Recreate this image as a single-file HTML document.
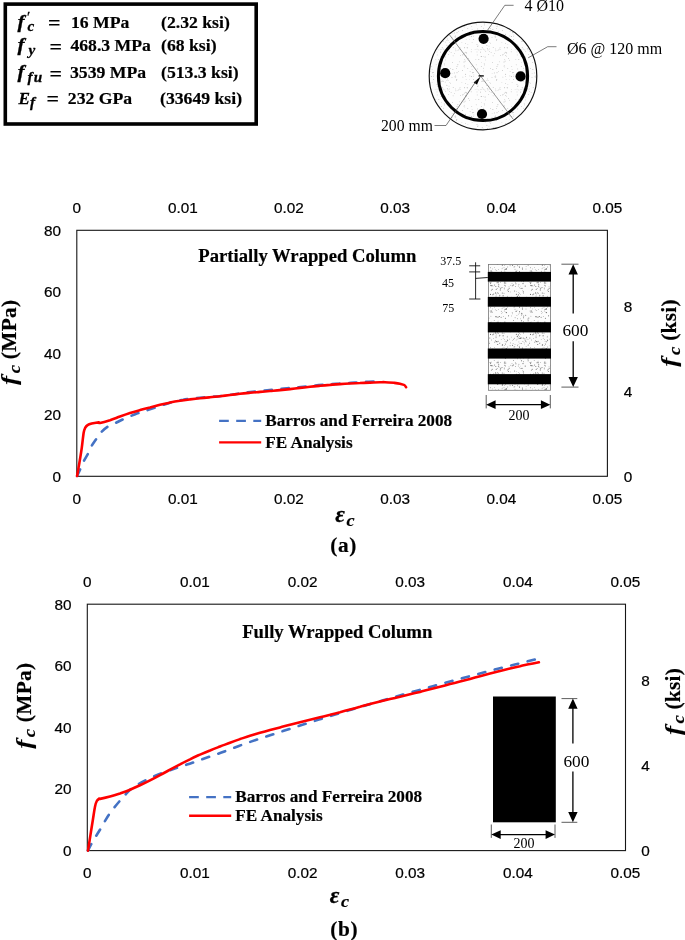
<!DOCTYPE html>
<html lang="en"><head><meta charset="utf-8"><title>Axial stress-strain: FRP wrapped columns</title>
<style>
html,body{margin:0;padding:0;background:#fff}
svg{display:block}
.tk{font-family:"Liberation Sans", sans-serif;font-size:15.3px;fill:#000;stroke:#000;stroke-width:0.22px}
.s{font-family:"Liberation Serif", serif;fill:#000}
.b{font-weight:bold;stroke:#000;stroke-width:0.18px}
.i{font-style:italic;stroke:#000;stroke-width:0.28px}
</style></head><body>
<svg width="685" height="940" viewBox="0 0 685 940">
<defs>
<pattern id="stip" width="40" height="40" patternUnits="userSpaceOnUse"><rect width="40" height="40" fill="#fcfcfc"/><g fill="#6a6a6a"><circle cx="13.0" cy="6.0" r="0.35"/><circle cx="2.9" cy="21.4" r="0.45"/><circle cx="23.3" cy="36.4" r="0.40"/><circle cx="1.5" cy="17.3" r="0.35"/><circle cx="9.6" cy="22.0" r="0.35"/><circle cx="33.1" cy="5.0" r="0.40"/><circle cx="25.2" cy="23.3" r="0.35"/><circle cx="23.1" cy="15.9" r="0.40"/><circle cx="1.9" cy="34.3" r="0.45"/><circle cx="16.8" cy="21.6" r="0.55"/><circle cx="12.3" cy="32.6" r="0.40"/><circle cx="4.1" cy="22.8" r="0.40"/><circle cx="14.9" cy="21.9" r="0.35"/><circle cx="22.6" cy="24.8" r="0.50"/><circle cx="27.2" cy="17.1" r="0.45"/><circle cx="18.6" cy="36.9" r="0.45"/><circle cx="12.0" cy="31.8" r="0.40"/><circle cx="3.3" cy="12.0" r="0.50"/><circle cx="35.0" cy="29.2" r="0.45"/><circle cx="24.4" cy="2.9" r="0.55"/><circle cx="16.7" cy="30.3" r="0.40"/><circle cx="37.3" cy="16.9" r="0.35"/><circle cx="30.6" cy="22.9" r="0.45"/><circle cx="13.6" cy="14.0" r="0.50"/><circle cx="23.2" cy="18.2" r="0.35"/><circle cx="37.8" cy="19.0" r="0.35"/><circle cx="2.4" cy="28.1" r="0.55"/><circle cx="39.7" cy="32.9" r="0.45"/><circle cx="28.7" cy="35.5" r="0.45"/><circle cx="0.9" cy="18.5" r="0.40"/><circle cx="24.4" cy="19.7" r="0.40"/><circle cx="30.7" cy="5.2" r="0.40"/><circle cx="15.9" cy="36.7" r="0.50"/><circle cx="3.2" cy="18.0" r="0.55"/><circle cx="11.1" cy="5.5" r="0.50"/><circle cx="34.6" cy="11.1" r="0.50"/><circle cx="39.5" cy="27.3" r="0.50"/><circle cx="38.3" cy="6.0" r="0.40"/><circle cx="6.1" cy="26.3" r="0.35"/><circle cx="19.4" cy="23.6" r="0.45"/><circle cx="11.3" cy="5.8" r="0.55"/><circle cx="14.8" cy="22.7" r="0.40"/><circle cx="27.6" cy="20.6" r="0.55"/><circle cx="26.2" cy="29.6" r="0.50"/><circle cx="36.0" cy="31.2" r="0.55"/><circle cx="15.7" cy="16.0" r="0.35"/><circle cx="19.3" cy="16.0" r="0.40"/><circle cx="2.7" cy="8.4" r="0.40"/><circle cx="4.4" cy="24.0" r="0.35"/><circle cx="0.0" cy="6.1" r="0.35"/><circle cx="38.0" cy="24.5" r="0.35"/><circle cx="35.0" cy="24.6" r="0.40"/><circle cx="25.4" cy="38.2" r="0.55"/><circle cx="14.6" cy="4.9" r="0.50"/><circle cx="39.7" cy="18.6" r="0.50"/><circle cx="12.5" cy="5.8" r="0.45"/><circle cx="29.6" cy="19.1" r="0.40"/><circle cx="20.7" cy="8.2" r="0.55"/><circle cx="14.5" cy="27.6" r="0.35"/><circle cx="30.3" cy="11.9" r="0.35"/><circle cx="27.8" cy="10.4" r="0.45"/><circle cx="36.3" cy="14.2" r="0.40"/><circle cx="21.3" cy="31.2" r="0.45"/><circle cx="25.5" cy="24.5" r="0.40"/><circle cx="32.2" cy="32.7" r="0.40"/><circle cx="8.0" cy="19.7" r="0.35"/><circle cx="39.6" cy="31.6" r="0.50"/><circle cx="10.4" cy="27.7" r="0.45"/><circle cx="17.9" cy="37.5" r="0.45"/><circle cx="38.2" cy="14.6" r="0.40"/><circle cx="4.1" cy="18.8" r="0.45"/><circle cx="8.2" cy="25.0" r="0.55"/><circle cx="33.6" cy="19.2" r="0.45"/><circle cx="32.0" cy="3.4" r="0.35"/><circle cx="36.4" cy="31.3" r="0.40"/><circle cx="19.1" cy="7.1" r="0.45"/><circle cx="3.5" cy="37.8" r="0.50"/><circle cx="18.5" cy="29.7" r="0.35"/><circle cx="29.0" cy="6.8" r="0.40"/><circle cx="1.1" cy="23.6" r="0.50"/><circle cx="32.3" cy="5.8" r="0.55"/><circle cx="39.2" cy="26.3" r="0.45"/><circle cx="6.2" cy="21.9" r="0.35"/><circle cx="0.6" cy="38.8" r="0.35"/><circle cx="21.1" cy="37.3" r="0.50"/><circle cx="39.5" cy="7.8" r="0.40"/><circle cx="1.1" cy="8.5" r="0.55"/><circle cx="9.6" cy="23.5" r="0.45"/><circle cx="21.8" cy="33.4" r="0.35"/><circle cx="36.4" cy="14.2" r="0.50"/><circle cx="26.5" cy="32.6" r="0.55"/><circle cx="16.8" cy="36.7" r="0.55"/><circle cx="5.2" cy="6.1" r="0.55"/><circle cx="0.7" cy="17.6" r="0.40"/><circle cx="24.3" cy="31.0" r="0.40"/><circle cx="6.9" cy="18.9" r="0.35"/><circle cx="22.3" cy="13.0" r="0.55"/><circle cx="21.2" cy="19.3" r="0.35"/><circle cx="35.3" cy="2.3" r="0.40"/><circle cx="11.1" cy="30.9" r="0.55"/><circle cx="18.1" cy="1.1" r="0.35"/><circle cx="17.7" cy="24.5" r="0.55"/><circle cx="24.2" cy="8.0" r="0.45"/><circle cx="18.1" cy="21.3" r="0.50"/><circle cx="20.3" cy="9.9" r="0.55"/><circle cx="35.1" cy="37.7" r="0.45"/><circle cx="36.9" cy="35.7" r="0.40"/><circle cx="33.6" cy="5.5" r="0.35"/><circle cx="15.7" cy="12.6" r="0.40"/><circle cx="17.1" cy="8.5" r="0.45"/><circle cx="31.4" cy="35.9" r="0.40"/><circle cx="37.6" cy="25.7" r="0.45"/><circle cx="5.7" cy="35.3" r="0.50"/><circle cx="8.8" cy="38.1" r="0.50"/><circle cx="35.4" cy="6.5" r="0.40"/><circle cx="6.5" cy="17.3" r="0.55"/><circle cx="16.2" cy="16.9" r="0.45"/><circle cx="12.7" cy="28.9" r="0.35"/><circle cx="13.5" cy="18.3" r="0.35"/><circle cx="15.4" cy="20.7" r="0.45"/><circle cx="20.5" cy="2.6" r="0.40"/><circle cx="38.9" cy="4.2" r="0.45"/><circle cx="10.9" cy="36.2" r="0.40"/><circle cx="10.8" cy="5.2" r="0.50"/><circle cx="34.0" cy="27.0" r="0.45"/><circle cx="16.2" cy="21.5" r="0.55"/><circle cx="22.8" cy="28.0" r="0.35"/><circle cx="11.2" cy="32.0" r="0.40"/><circle cx="17.0" cy="2.9" r="0.35"/><circle cx="25.4" cy="32.1" r="0.35"/><circle cx="24.3" cy="8.9" r="0.45"/><circle cx="34.5" cy="18.2" r="0.45"/><circle cx="39.8" cy="16.7" r="0.45"/><circle cx="24.9" cy="1.7" r="0.40"/><circle cx="37.5" cy="38.8" r="0.45"/><circle cx="2.0" cy="8.1" r="0.45"/><circle cx="25.1" cy="21.2" r="0.40"/><circle cx="11.6" cy="20.0" r="0.40"/><circle cx="10.8" cy="32.1" r="0.45"/><circle cx="1.5" cy="0.7" r="0.55"/><circle cx="22.0" cy="7.6" r="0.50"/><circle cx="9.8" cy="17.9" r="0.50"/><circle cx="26.3" cy="21.8" r="0.50"/><circle cx="38.8" cy="12.3" r="0.40"/><circle cx="39.3" cy="13.7" r="0.40"/><circle cx="16.2" cy="13.9" r="0.35"/><circle cx="33.5" cy="0.6" r="0.45"/><circle cx="17.2" cy="2.2" r="0.50"/><circle cx="34.8" cy="26.8" r="0.45"/><circle cx="24.0" cy="27.7" r="0.35"/><circle cx="18.4" cy="6.3" r="0.50"/><circle cx="0.1" cy="14.6" r="0.45"/><circle cx="38.9" cy="21.9" r="0.40"/><circle cx="1.4" cy="35.3" r="0.40"/><circle cx="14.3" cy="0.0" r="0.50"/><circle cx="3.4" cy="11.2" r="0.40"/><circle cx="9.9" cy="31.0" r="0.35"/><circle cx="10.6" cy="3.6" r="0.50"/><circle cx="23.5" cy="15.8" r="0.45"/><circle cx="12.2" cy="9.3" r="0.55"/><circle cx="38.3" cy="34.1" r="0.40"/><circle cx="26.3" cy="28.6" r="0.55"/><circle cx="15.6" cy="13.0" r="0.50"/><circle cx="6.0" cy="29.0" r="0.40"/><circle cx="1.8" cy="33.4" r="0.55"/><circle cx="25.1" cy="29.4" r="0.55"/><circle cx="5.6" cy="21.0" r="0.55"/><circle cx="22.7" cy="32.5" r="0.35"/><circle cx="33.1" cy="23.4" r="0.40"/><circle cx="3.4" cy="1.7" r="0.45"/><circle cx="38.4" cy="15.1" r="0.50"/><circle cx="22.3" cy="25.1" r="0.55"/><circle cx="27.2" cy="19.6" r="0.35"/><circle cx="18.3" cy="2.8" r="0.55"/><circle cx="35.9" cy="3.7" r="0.55"/><circle cx="2.6" cy="29.5" r="0.45"/><circle cx="32.4" cy="33.8" r="0.40"/><circle cx="29.2" cy="8.2" r="0.50"/><circle cx="19.8" cy="15.3" r="0.50"/><circle cx="36.4" cy="11.5" r="0.35"/><circle cx="24.7" cy="25.7" r="0.35"/><circle cx="24.0" cy="13.3" r="0.45"/><circle cx="24.8" cy="5.3" r="0.50"/><circle cx="2.4" cy="10.8" r="0.35"/><circle cx="27.7" cy="27.0" r="0.45"/><circle cx="28.4" cy="11.4" r="0.50"/><circle cx="18.7" cy="4.7" r="0.55"/><circle cx="8.0" cy="39.1" r="0.50"/><circle cx="0.7" cy="18.4" r="0.55"/><circle cx="38.7" cy="18.0" r="0.45"/><circle cx="15.5" cy="36.7" r="0.40"/><circle cx="3.0" cy="3.6" r="0.55"/><circle cx="10.5" cy="14.4" r="0.55"/><circle cx="32.8" cy="20.3" r="0.35"/><circle cx="28.1" cy="9.3" r="0.50"/><circle cx="15.8" cy="6.4" r="0.50"/><circle cx="27.3" cy="16.2" r="0.40"/><circle cx="16.6" cy="15.0" r="0.35"/><circle cx="33.6" cy="0.1" r="0.45"/><circle cx="33.6" cy="4.8" r="0.40"/><circle cx="28.5" cy="36.1" r="0.45"/><circle cx="10.1" cy="2.6" r="0.50"/><circle cx="40.0" cy="23.6" r="0.45"/><circle cx="37.0" cy="30.2" r="0.35"/><circle cx="11.2" cy="2.1" r="0.45"/><circle cx="25.4" cy="6.0" r="0.45"/><circle cx="17.4" cy="12.6" r="0.45"/><circle cx="31.4" cy="17.1" r="0.35"/><circle cx="32.5" cy="25.2" r="0.55"/><circle cx="22.0" cy="28.8" r="0.35"/><circle cx="37.3" cy="16.4" r="0.55"/><circle cx="30.1" cy="25.8" r="0.45"/><circle cx="19.4" cy="36.5" r="0.55"/><circle cx="5.1" cy="18.9" r="0.45"/><circle cx="11.3" cy="10.2" r="0.45"/><circle cx="16.2" cy="9.5" r="0.50"/><circle cx="22.3" cy="15.8" r="0.40"/><circle cx="25.7" cy="3.0" r="0.55"/><circle cx="36.2" cy="19.9" r="0.40"/><circle cx="18.1" cy="13.3" r="0.50"/><circle cx="17.1" cy="21.9" r="0.40"/><circle cx="3.6" cy="13.7" r="0.35"/><circle cx="12.8" cy="14.7" r="0.55"/><circle cx="8.1" cy="0.8" r="0.50"/><circle cx="15.3" cy="29.8" r="0.40"/><circle cx="15.1" cy="13.5" r="0.35"/><circle cx="19.9" cy="23.0" r="0.45"/><circle cx="5.0" cy="20.1" r="0.40"/><circle cx="3.7" cy="35.9" r="0.50"/><circle cx="16.0" cy="17.8" r="0.45"/></g></pattern>
<pattern id="stipc" width="40" height="40" patternUnits="userSpaceOnUse"><rect width="40" height="40" fill="#fdfdfd"/><g fill="#9a9a9a"><circle cx="33.9" cy="34.9" r="0.30"/><circle cx="5.1" cy="17.0" r="0.45"/><circle cx="38.7" cy="19.6" r="0.30"/><circle cx="15.7" cy="37.1" r="0.45"/><circle cx="38.9" cy="9.9" r="0.30"/><circle cx="9.0" cy="6.1" r="0.30"/><circle cx="37.7" cy="28.9" r="0.45"/><circle cx="3.4" cy="31.1" r="0.30"/><circle cx="31.3" cy="9.3" r="0.30"/><circle cx="25.8" cy="12.2" r="0.35"/><circle cx="25.1" cy="21.1" r="0.45"/><circle cx="27.9" cy="4.5" r="0.30"/><circle cx="12.0" cy="37.7" r="0.35"/><circle cx="15.5" cy="8.9" r="0.30"/><circle cx="0.4" cy="12.1" r="0.45"/><circle cx="11.1" cy="12.7" r="0.35"/><circle cx="19.0" cy="9.4" r="0.35"/><circle cx="1.2" cy="16.5" r="0.40"/><circle cx="2.2" cy="7.8" r="0.45"/><circle cx="3.2" cy="9.1" r="0.45"/><circle cx="37.0" cy="9.1" r="0.30"/><circle cx="27.8" cy="28.7" r="0.40"/><circle cx="27.3" cy="7.9" r="0.40"/><circle cx="29.6" cy="20.2" r="0.35"/><circle cx="19.8" cy="8.0" r="0.35"/><circle cx="9.2" cy="8.9" r="0.40"/><circle cx="4.4" cy="24.9" r="0.35"/><circle cx="35.9" cy="19.4" r="0.30"/><circle cx="38.0" cy="5.9" r="0.45"/><circle cx="2.2" cy="0.9" r="0.35"/><circle cx="16.6" cy="28.4" r="0.35"/><circle cx="15.7" cy="35.9" r="0.40"/><circle cx="29.3" cy="39.9" r="0.35"/><circle cx="13.2" cy="7.4" r="0.45"/><circle cx="1.3" cy="26.6" r="0.45"/><circle cx="33.6" cy="39.4" r="0.45"/><circle cx="6.8" cy="0.1" r="0.40"/><circle cx="3.2" cy="16.8" r="0.30"/><circle cx="22.4" cy="30.4" r="0.45"/><circle cx="14.3" cy="32.9" r="0.45"/><circle cx="3.5" cy="28.2" r="0.35"/><circle cx="14.9" cy="36.8" r="0.35"/><circle cx="12.9" cy="29.5" r="0.45"/><circle cx="1.2" cy="16.4" r="0.45"/><circle cx="1.6" cy="1.4" r="0.30"/><circle cx="32.1" cy="2.5" r="0.35"/><circle cx="29.9" cy="35.9" r="0.40"/><circle cx="14.5" cy="13.4" r="0.30"/><circle cx="10.5" cy="28.7" r="0.40"/><circle cx="37.0" cy="11.9" r="0.30"/><circle cx="1.0" cy="9.4" r="0.45"/><circle cx="28.6" cy="18.6" r="0.45"/><circle cx="31.6" cy="36.5" r="0.45"/><circle cx="5.3" cy="19.9" r="0.30"/><circle cx="32.1" cy="29.5" r="0.35"/><circle cx="24.3" cy="13.1" r="0.40"/><circle cx="18.4" cy="31.4" r="0.30"/><circle cx="20.5" cy="15.7" r="0.35"/><circle cx="9.9" cy="2.6" r="0.30"/><circle cx="19.3" cy="21.8" r="0.35"/><circle cx="39.2" cy="35.3" r="0.30"/><circle cx="10.6" cy="3.4" r="0.30"/><circle cx="16.8" cy="39.5" r="0.45"/><circle cx="6.9" cy="5.3" r="0.45"/><circle cx="24.8" cy="27.0" r="0.30"/><circle cx="31.2" cy="11.8" r="0.40"/><circle cx="22.7" cy="14.9" r="0.40"/><circle cx="8.0" cy="9.9" r="0.35"/><circle cx="9.4" cy="11.3" r="0.35"/><circle cx="13.1" cy="15.8" r="0.35"/><circle cx="20.3" cy="9.3" r="0.30"/><circle cx="26.1" cy="39.6" r="0.30"/><circle cx="0.2" cy="35.3" r="0.35"/><circle cx="33.6" cy="36.6" r="0.30"/><circle cx="35.1" cy="9.3" r="0.30"/><circle cx="7.6" cy="38.9" r="0.35"/><circle cx="37.2" cy="14.9" r="0.35"/><circle cx="18.0" cy="10.4" r="0.30"/><circle cx="4.2" cy="23.8" r="0.40"/><circle cx="8.7" cy="14.7" r="0.35"/><circle cx="1.8" cy="40.0" r="0.30"/><circle cx="24.0" cy="26.1" r="0.35"/><circle cx="32.6" cy="32.8" r="0.45"/><circle cx="27.1" cy="7.4" r="0.40"/><circle cx="3.1" cy="1.3" r="0.45"/><circle cx="21.9" cy="2.5" r="0.30"/><circle cx="31.8" cy="26.6" r="0.35"/><circle cx="25.6" cy="3.6" r="0.35"/><circle cx="15.9" cy="10.8" r="0.40"/><circle cx="26.7" cy="16.7" r="0.30"/><circle cx="12.5" cy="22.7" r="0.40"/><circle cx="16.6" cy="0.7" r="0.40"/><circle cx="25.8" cy="15.6" r="0.45"/><circle cx="8.1" cy="0.2" r="0.35"/><circle cx="17.0" cy="32.8" r="0.45"/><circle cx="23.1" cy="14.6" r="0.35"/><circle cx="5.2" cy="2.1" r="0.35"/><circle cx="25.6" cy="36.4" r="0.30"/><circle cx="22.9" cy="37.1" r="0.35"/><circle cx="5.8" cy="11.3" r="0.35"/><circle cx="37.0" cy="4.4" r="0.45"/><circle cx="30.1" cy="31.7" r="0.35"/><circle cx="12.1" cy="33.5" r="0.30"/><circle cx="39.0" cy="19.3" r="0.30"/><circle cx="24.3" cy="25.5" r="0.30"/><circle cx="36.2" cy="24.8" r="0.35"/><circle cx="25.6" cy="34.3" r="0.45"/><circle cx="24.6" cy="7.8" r="0.45"/><circle cx="7.3" cy="8.7" r="0.45"/><circle cx="37.5" cy="6.3" r="0.40"/><circle cx="4.9" cy="9.9" r="0.35"/><circle cx="1.6" cy="22.5" r="0.30"/><circle cx="26.7" cy="13.0" r="0.45"/><circle cx="24.0" cy="22.0" r="0.40"/><circle cx="26.0" cy="12.3" r="0.35"/><circle cx="17.0" cy="26.4" r="0.45"/><circle cx="20.1" cy="7.2" r="0.30"/><circle cx="24.8" cy="19.6" r="0.35"/><circle cx="17.9" cy="24.7" r="0.45"/><circle cx="33.5" cy="32.4" r="0.45"/></g></pattern>
</defs>
<rect width="685" height="940" fill="#fff"/>
<rect x="5.3" y="4.1" width="250.9" height="119.9" fill="#fff" stroke="#000" stroke-width="3.6"/>
<text class="s b i" transform="translate(17.5 27.8) scale(1.18 1)" font-size="17.8">f</text>
<text class="s b i" transform="translate(27.5 31.2) scale(1.05 1)" font-size="14.5">c</text>
<text class="s" x="27.0" y="22.3" font-size="15" style="stroke:#000;stroke-width:0.3px">′</text>
<text class="s b" x="48.0" y="27.8" font-size="22" transform="translate(0 2.7)">=</text>
<text class="s b" x="71.0" y="27.8" font-size="17.7">16 MPa</text>
<text class="s b" x="161.0" y="27.8" font-size="17.7">(2.32 ksi)</text>
<text class="s b i" transform="translate(17.5 51.4) scale(1.18 1)" font-size="17.8">f</text>
<text class="s b i" transform="translate(28.5 54.8) scale(1.05 1)" font-size="14.5">y</text>
<text class="s b" x="49.5" y="51.4" font-size="22" transform="translate(0 2.7)">=</text>
<text class="s b" x="70.4" y="51.4" font-size="17.7">468.3 MPa</text>
<text class="s b" x="161.0" y="51.4" font-size="17.7">(68 ksi)</text>
<text class="s b i" transform="translate(17.5 78.4) scale(1.18 1)" font-size="17.8">f</text>
<text class="s b i" transform="translate(27.5 81.8) scale(1.05 1)" font-size="14.5" letter-spacing="1.2">fu</text>
<text class="s b" x="49.5" y="78.4" font-size="22" transform="translate(0 2.7)">=</text>
<text class="s b" x="70.0" y="78.4" font-size="17.7">3539 MPa</text>
<text class="s b" x="161.0" y="78.4" font-size="17.7">(513.3 ksi)</text>
<text class="s b i" transform="translate(18.4 103.8) scale(1.00 1)" font-size="17.2">E</text>
<text class="s b i" transform="translate(30.0 107.2) scale(1.05 1)" font-size="14.5">f</text>
<text class="s b" x="46.5" y="103.8" font-size="22" transform="translate(0 2.7)">=</text>
<text class="s b" x="67.8" y="103.8" font-size="17.7">232 GPa</text>
<text class="s b" x="160.0" y="103.8" font-size="17.7">(33649 ksi)</text>
<g>
<circle cx="483.0" cy="76.0" r="53.8" fill="url(#stipc)" stroke="#111" stroke-width="1.15"/>
<circle cx="483.0" cy="76.0" r="44.6" fill="none" stroke="#000" stroke-width="3"/>
<circle cx="483.6" cy="38.8" r="5.1" fill="#000"/>
<circle cx="445.2" cy="73.2" r="5.1" fill="#000"/>
<circle cx="520.6" cy="76.4" r="5.1" fill="#000"/>
<circle cx="482.0" cy="114.0" r="5.1" fill="#000"/>
<path d="M449.4 34.7L513 119" stroke="#6a6a6a" stroke-width="0.7" fill="none"/>
<path d="M478.6 75.9H483.8" stroke="#000" stroke-width="1.3" fill="none"/>
<path d="M480.6 76.4L477.0 84.6L473.6 82.6Z" fill="#000"/>
<path d="M476.5 80.5L446 125.5H434.5" stroke="#444" stroke-width="0.7" fill="none"/>
<path d="M487.3 30.6L504.8 5.3H513.6" stroke="#444" stroke-width="0.7" fill="none"/>
<path d="M528.2 57.8L547.7 46.7H556.5" stroke="#444" stroke-width="0.7" fill="none"/>
</g>
<text class="s" x="524.4" y="10.8" font-size="16">4 Ø10</text>
<text class="s" x="567" y="54" font-size="16">Ø6 @ 120 mm</text>
<text class="s" x="381" y="131.2" font-size="15.7">200 mm</text>
<rect x="76.8" y="230.3" width="530.6" height="246.0" fill="none" stroke="#161616" stroke-width="1.1"/>
<text class="tk" text-anchor="middle" x="76.8" y="213.1">0</text>
<text class="tk" text-anchor="middle" x="76.8" y="504.2">0</text>
<text class="tk" text-anchor="middle" x="182.9" y="213.1">0.01</text>
<text class="tk" text-anchor="middle" x="182.9" y="504.2">0.01</text>
<text class="tk" text-anchor="middle" x="289.0" y="213.1">0.02</text>
<text class="tk" text-anchor="middle" x="289.0" y="504.2">0.02</text>
<text class="tk" text-anchor="middle" x="395.2" y="213.1">0.03</text>
<text class="tk" text-anchor="middle" x="395.2" y="504.2">0.03</text>
<text class="tk" text-anchor="middle" x="501.3" y="213.1">0.04</text>
<text class="tk" text-anchor="middle" x="501.3" y="504.2">0.04</text>
<text class="tk" text-anchor="middle" x="607.4" y="213.1">0.05</text>
<text class="tk" text-anchor="middle" x="607.4" y="504.2">0.05</text>
<text class="tk" text-anchor="end" x="60.9" y="481.7">0</text>
<text class="tk" text-anchor="end" x="60.9" y="420.2">20</text>
<text class="tk" text-anchor="end" x="60.9" y="358.7">40</text>
<text class="tk" text-anchor="end" x="60.9" y="297.2">60</text>
<text class="tk" text-anchor="end" x="60.9" y="235.7">80</text>
<text class="tk" x="623.7" y="481.7">0</text>
<text class="tk" x="623.7" y="396.9">4</text>
<text class="tk" x="623.7" y="312.1">8</text>
<text class="s b" x="198.3" y="261.7" font-size="18.67">Partially Wrapped Column</text>
<path d="M77.1 476.0 C77.6 474.9 78.9 472.1 80.0 469.7 C81.1 467.3 82.1 464.3 83.5 461.6 C84.9 458.9 86.8 456.0 88.2 453.4 C89.6 450.8 90.3 448.2 91.7 445.8 C93.1 443.4 94.8 441.1 96.4 438.8 C98.1 436.5 99.7 433.9 101.6 431.8 C103.5 429.8 105.7 428.0 108.0 426.5 C110.3 425.0 113.1 424.2 115.6 423.0 C118.1 421.8 119.9 420.7 123.2 419.3 C126.5 417.8 131.2 415.8 135.2 414.2 C139.2 412.7 143.2 411.5 147.2 410.2 C151.2 408.9 155.2 407.6 159.2 406.3 C163.2 405.0 167.2 403.6 171.2 402.5 C175.2 401.4 179.2 400.4 183.2 399.7 C187.2 398.9 191.2 398.5 195.2 398.1 C199.2 397.7 203.2 397.5 207.2 397.2 C211.2 396.8 215.2 396.6 219.2 396.2 C223.2 395.7 227.2 395.2 231.2 394.7 C235.2 394.1 239.2 393.5 243.2 392.9 C247.2 392.4 251.2 391.9 255.2 391.4 C259.2 391.0 263.2 390.6 267.2 390.2 C271.2 389.9 275.2 389.5 279.2 389.1 C283.2 388.8 287.2 388.3 291.2 387.9 C295.2 387.5 299.2 387.1 303.2 386.7 C307.2 386.3 311.2 385.9 315.2 385.5 C319.2 385.1 323.2 384.8 327.2 384.5 C331.2 384.1 335.2 383.8 339.2 383.6 C343.2 383.3 347.2 383.1 351.2 382.8 C355.2 382.6 358.9 382.3 363.2 382.1 C367.5 381.8 374.5 381.4 376.8 381.2" fill="none" stroke="#4472c4" stroke-width="2.6" stroke-dasharray="7.3 9.7" stroke-dashoffset="0" stroke-linecap="round"/>
<path d="M77.1 476.0 C77.5 473.8 78.6 467.4 79.4 462.7 C80.2 458.0 81.1 452.7 81.8 447.6 C82.5 442.6 83.1 435.7 83.7 432.4 C84.3 429.1 84.7 428.9 85.3 427.7 C85.9 426.5 86.5 425.8 87.6 425.1 C88.7 424.4 89.8 424.1 91.7 423.6 C93.6 423.2 97.3 422.5 98.7 422.4 C100.1 422.3 98.1 423.3 100.0 422.9 C101.9 422.5 106.7 421.2 110.0 420.2 C113.3 419.1 116.7 417.7 120.0 416.5 C123.3 415.3 126.7 414.1 130.0 413.0 C133.3 411.9 136.7 411.0 140.0 410.1 C143.3 409.1 146.7 408.2 150.0 407.4 C153.3 406.5 156.7 405.6 160.0 404.8 C163.3 404.0 166.7 403.3 170.0 402.6 C173.3 401.9 176.7 401.3 180.0 400.8 C183.3 400.2 186.7 399.8 190.0 399.4 C193.3 399.0 196.7 398.6 200.0 398.3 C203.3 397.9 206.7 397.6 210.0 397.3 C213.3 396.9 216.7 396.6 220.0 396.2 C223.3 395.8 226.7 395.4 230.0 395.0 C233.3 394.6 236.7 394.2 240.0 393.8 C243.3 393.4 246.7 393.1 250.0 392.8 C253.3 392.4 256.7 392.2 260.0 391.9 C263.3 391.6 266.7 391.3 270.0 391.0 C273.3 390.7 276.7 390.5 280.0 390.1 C283.3 389.8 286.7 389.4 290.0 389.1 C293.3 388.7 296.7 388.3 300.0 387.9 C303.3 387.6 306.7 387.2 310.0 386.8 C313.3 386.4 316.7 386.1 320.0 385.8 C323.3 385.4 326.7 385.1 330.0 384.9 C333.3 384.6 336.7 384.3 340.0 384.1 C343.3 383.9 346.7 383.7 350.0 383.5 C353.3 383.3 356.7 383.1 360.0 383.0 C363.3 382.8 366.7 382.7 370.0 382.6 C373.3 382.5 377.5 382.4 380.0 382.3 C382.5 382.2 382.7 382.1 385.0 382.2 C387.3 382.3 391.3 382.6 393.8 382.8 C396.3 383.1 398.1 383.3 399.9 383.7 C401.6 384.1 403.3 384.4 404.3 385.0 C405.3 385.6 405.8 386.8 406.1 387.2" fill="none" stroke="#ff0000" stroke-width="2.6" stroke-linecap="round" stroke-linejoin="round"/>
<path d="M219.1 420.8H261.2" stroke="#4472c4" stroke-width="2.2" stroke-dasharray="9.7 7.4" fill="none"/>
<path d="M219.1 442.4H261.2" stroke="#ff0000" stroke-width="2.4" fill="none"/>
<text class="s b" x="265.2" y="425.5" font-size="17.2">Barros and Ferreira 2008</text>
<text class="s b" x="265.2" y="447.7" font-size="17.2">FE Analysis</text>
<rect x="87.3" y="604.2" width="538.2" height="246.4" fill="none" stroke="#161616" stroke-width="1.1"/>
<text class="tk" text-anchor="middle" x="87.3" y="586.6">0</text>
<text class="tk" text-anchor="middle" x="87.3" y="878.3">0</text>
<text class="tk" text-anchor="middle" x="194.9" y="586.6">0.01</text>
<text class="tk" text-anchor="middle" x="194.9" y="878.3">0.01</text>
<text class="tk" text-anchor="middle" x="302.6" y="586.6">0.02</text>
<text class="tk" text-anchor="middle" x="302.6" y="878.3">0.02</text>
<text class="tk" text-anchor="middle" x="410.2" y="586.6">0.03</text>
<text class="tk" text-anchor="middle" x="410.2" y="878.3">0.03</text>
<text class="tk" text-anchor="middle" x="517.9" y="586.6">0.04</text>
<text class="tk" text-anchor="middle" x="517.9" y="878.3">0.04</text>
<text class="tk" text-anchor="middle" x="625.5" y="586.6">0.05</text>
<text class="tk" text-anchor="middle" x="625.5" y="878.3">0.05</text>
<text class="tk" text-anchor="end" x="71.4" y="856.0">0</text>
<text class="tk" text-anchor="end" x="71.4" y="794.4">20</text>
<text class="tk" text-anchor="end" x="71.4" y="732.8">40</text>
<text class="tk" text-anchor="end" x="71.4" y="671.2">60</text>
<text class="tk" text-anchor="end" x="71.4" y="609.6">80</text>
<text class="tk" x="641.3" y="856.0">0</text>
<text class="tk" x="641.3" y="771.1">4</text>
<text class="tk" x="641.3" y="686.1">8</text>
<text class="s b" x="242.2" y="638.1" font-size="18.67">Fully Wrapped Column</text>
<path d="M88.0 850.6 C88.5 849.6 89.7 847.0 91.0 844.7 C92.3 842.4 94.1 839.2 95.7 836.6 C97.3 834.0 99.0 831.4 100.4 829.0 C101.9 826.6 103.0 824.4 104.4 822.0 C105.9 819.6 107.4 816.8 109.1 814.4 C110.8 812.0 112.6 809.7 114.4 807.4 C116.2 805.1 118.4 802.5 120.2 800.4 C122.0 798.2 123.8 796.4 125.5 794.5 C127.2 792.6 128.5 791.1 130.7 789.3 C132.9 787.5 135.5 785.7 138.9 783.8 C142.3 781.9 146.9 779.6 150.9 777.7 C154.9 775.9 158.9 774.2 162.9 772.7 C166.9 771.2 170.9 769.9 174.9 768.6 C178.9 767.2 182.9 766.0 186.9 764.6 C190.9 763.3 194.9 761.8 198.9 760.4 C202.9 759.0 206.9 757.6 210.9 756.2 C214.9 754.8 218.9 753.5 222.9 752.0 C226.9 750.6 230.9 749.0 234.9 747.5 C238.9 746.0 242.9 744.4 246.9 743.0 C250.9 741.6 254.9 740.3 258.9 739.0 C262.9 737.7 266.9 736.3 270.9 735.0 C274.9 733.7 278.9 732.4 282.9 731.1 C286.9 729.8 290.9 728.5 294.9 727.2 C298.9 725.9 302.9 724.6 306.9 723.4 C310.9 722.1 314.9 720.9 318.9 719.6 C322.9 718.4 326.9 717.1 330.9 715.9 C334.9 714.7 338.9 713.4 342.9 712.2 C346.9 711.0 350.9 709.8 354.9 708.6 C358.9 707.4 362.9 706.2 366.9 705.0 C370.9 703.9 374.9 702.7 378.9 701.5 C382.9 700.4 386.9 699.2 390.9 698.0 C394.9 696.9 398.9 695.8 402.9 694.6 C406.9 693.5 410.9 692.4 414.9 691.2 C418.9 690.1 422.9 689.0 426.9 687.9 C430.9 686.8 434.9 685.6 438.9 684.5 C442.9 683.4 446.9 682.4 450.9 681.3 C454.9 680.2 458.9 679.1 462.9 678.0 C466.9 676.9 470.9 675.9 474.9 674.8 C478.9 673.7 482.9 672.7 486.9 671.6 C490.9 670.6 494.9 669.5 498.9 668.5 C502.9 667.5 506.9 666.5 510.9 665.5 C514.9 664.5 518.9 663.6 522.9 662.5 C526.9 661.5 532.2 660.2 534.9 659.5 C537.6 658.8 538.6 658.6 539.3 658.4" fill="none" stroke="#4472c4" stroke-width="2.6" stroke-dasharray="7.3 9.7" stroke-dashoffset="0" stroke-linecap="round"/>
<path d="M88.0 850.6 C88.4 848.1 89.6 840.5 90.4 835.4 C91.2 830.3 92.0 825.1 92.8 820.2 C93.6 815.3 94.4 809.4 95.1 806.2 C95.8 803.0 96.1 802.3 96.8 801.0 C97.5 799.7 98.7 799.0 99.2 798.6 C99.7 798.2 98.2 799.2 100.0 798.9 C101.8 798.6 106.7 797.5 110.0 796.6 C113.3 795.7 116.7 794.6 120.0 793.5 C123.3 792.3 126.7 791.1 130.0 789.7 C133.3 788.3 136.7 786.8 140.0 785.3 C143.3 783.8 146.7 782.1 150.0 780.4 C153.3 778.7 156.7 776.9 160.0 775.1 C163.3 773.4 166.7 771.5 170.0 769.7 C173.3 767.9 176.7 766.1 180.0 764.4 C183.3 762.6 186.7 760.9 190.0 759.3 C193.3 757.6 196.7 756.1 200.0 754.6 C203.3 753.2 206.7 751.8 210.0 750.5 C213.3 749.1 216.7 747.8 220.0 746.5 C223.3 745.2 226.7 744.0 230.0 742.7 C233.3 741.5 236.7 740.3 240.0 739.1 C243.3 738.0 246.7 736.8 250.0 735.8 C253.3 734.8 256.7 733.8 260.0 732.8 C263.3 731.9 266.7 731.0 270.0 730.1 C273.3 729.2 276.7 728.3 280.0 727.4 C283.3 726.5 286.7 725.7 290.0 724.8 C293.3 724.0 296.7 723.1 300.0 722.3 C303.3 721.5 306.7 720.6 310.0 719.8 C313.3 719.0 316.7 718.1 320.0 717.3 C323.3 716.4 326.7 715.6 330.0 714.8 C333.3 713.9 336.7 713.0 340.0 712.2 C343.3 711.3 346.7 710.4 350.0 709.5 C353.3 708.6 356.7 707.7 360.0 706.8 C363.3 705.8 366.7 704.9 370.0 704.0 C373.3 703.2 376.7 702.3 380.0 701.5 C383.3 700.7 386.7 699.9 390.0 699.1 C393.3 698.3 396.7 697.5 400.0 696.7 C403.3 695.9 406.7 695.1 410.0 694.3 C413.3 693.5 416.7 692.7 420.0 691.9 C423.3 691.0 426.7 690.2 430.0 689.3 C433.3 688.5 436.7 687.6 440.0 686.8 C443.3 685.9 446.7 685.0 450.0 684.1 C453.3 683.3 456.7 682.4 460.0 681.5 C463.3 680.6 466.7 679.8 470.0 678.9 C473.3 678.0 476.7 677.1 480.0 676.2 C483.3 675.4 486.7 674.5 490.0 673.6 C493.3 672.7 496.7 671.9 500.0 671.0 C503.3 670.2 506.7 669.3 510.0 668.5 C513.3 667.7 516.7 666.9 520.0 666.2 C523.3 665.4 526.9 664.7 530.0 664.0 C533.1 663.4 537.4 662.6 538.9 662.3" fill="none" stroke="#ff0000" stroke-width="2.6" stroke-linecap="round" stroke-linejoin="round"/>
<path d="M189.1 797.1H231.2" stroke="#4472c4" stroke-width="2.2" stroke-dasharray="9.7 7.4" fill="none"/>
<path d="M189.1 815.7H231.2" stroke="#ff0000" stroke-width="2.4" fill="none"/>
<text class="s b" x="235.2" y="801.8" font-size="17.2">Barros and Ferreira 2008</text>
<text class="s b" x="235.2" y="821.4" font-size="17.2">FE Analysis</text>
<g transform="translate(16.0 385.4) rotate(-90)">
<text class="s b i" transform="translate(0.3 0.0) scale(1.26 1)" font-size="21.7" style="stroke-width:0.1px">f</text>
<text class="s b i" transform="translate(12.2 4.3) scale(1.15 1)" font-size="16.3" style="stroke-width:0.15px">c</text>
<text class="s b" text-anchor="end" x="85.7" y="0" font-size="21.3" letter-spacing="0.3">(MPa)</text>
</g>
<g transform="translate(675.9 367.0) rotate(-90)">
<text class="s b i" transform="translate(0.3 0.0) scale(1.26 1)" font-size="21.7" style="stroke-width:0.1px">f</text>
<text class="s b i" transform="translate(11.9 4.3) scale(1.15 1)" font-size="16.3" style="stroke-width:0.15px">c</text>
<text class="s b" text-anchor="end" x="67.9" y="0" font-size="21.3" letter-spacing="0.3">(ksi)</text>
</g>
<g transform="translate(30.7 749.0) rotate(-90)">
<text class="s b i" transform="translate(0.3 0.0) scale(1.26 1)" font-size="21.7" style="stroke-width:0.1px">f</text>
<text class="s b i" transform="translate(11.7 4.3) scale(1.15 1)" font-size="16.3" style="stroke-width:0.15px">c</text>
<text class="s b" text-anchor="end" x="86.3" y="0" font-size="21.3" letter-spacing="0.3">(MPa)</text>
</g>
<g transform="translate(679.7 735.3) rotate(-90)">
<text class="s b i" transform="translate(0.3 0.0) scale(1.26 1)" font-size="21.7" style="stroke-width:0.1px">f</text>
<text class="s b i" transform="translate(11.9 4.3) scale(1.15 1)" font-size="16.3" style="stroke-width:0.15px">c</text>
<text class="s b" text-anchor="end" x="67.5" y="0" font-size="21.3" letter-spacing="0.3">(ksi)</text>
</g>
<text class="s b i" transform="translate(335.3 522.0) scale(1.05 1)" font-size="22.4">ε</text>
<text class="s b i" transform="translate(346.6 526.3) scale(1.12 1)" font-size="16.3" style="stroke-width:0.15px">c</text>
<text class="s b" x="330.3" y="551.5" font-size="21.3" letter-spacing="0.6">(a)</text>
<text class="s b i" transform="translate(329.8 903.1) scale(1.05 1)" font-size="22.4">ε</text>
<text class="s b i" transform="translate(341.1 907.4) scale(1.12 1)" font-size="16.3" style="stroke-width:0.15px">c</text>
<text class="s b" x="330.3" y="935.6" font-size="21.3" letter-spacing="0.6">(b)</text>
<g>
<rect x="488.4" y="264.4" width="62.2" height="125.9" fill="url(#stip)" stroke="#777" stroke-width="0.8"/>
<rect x="487.8" y="271.9" width="63.2" height="9.7" fill="#000"/>
<rect x="487.8" y="296.9" width="63.2" height="9.8" fill="#000"/>
<rect x="487.8" y="322.2" width="63.2" height="10.2" fill="#000"/>
<rect x="487.8" y="348.5" width="63.2" height="10.1" fill="#000"/>
<rect x="487.8" y="374.1" width="63.2" height="10.2" fill="#000"/>
<path d="M475.6 262.3V299M469.2 265.8H480.2M469.2 271.9H480.2M469.2 299H480.4M475.6 278.4L487.8 277.5" stroke="#111" stroke-width="0.9" fill="none"/>
<text class="s" x="440.2" y="264.6" font-size="12">37.5</text>
<text class="s" x="441.9" y="287.1" font-size="12">45</text>
<text class="s" x="442.2" y="312.2" font-size="12">75</text>
<path d="M561.4 264.2H578.5M561.4 387.1H578.5" stroke="#333" stroke-width="0.8" fill="none"/>
<path d="M573.2 272.2V313.6M573.2 341.2V379.1" stroke="#000" stroke-width="1.3" fill="none"/>
<path d="M573.2 264.2l-4.7 10.2h9.4ZM573.2 387.1l-4.7 -10.2h9.4Z" fill="#000"/>
<text class="s" x="562.4" y="336.4" font-size="17.3">600</text>
<path d="M486.2 395.0V408.4M550.3 395.0V408.4" stroke="#333" stroke-width="0.8" fill="none"/>
<path d="M494.2 404.7H542.3" stroke="#000" stroke-width="1.3" fill="none"/>
<path d="M486.2 404.7l9.4 -4.4v8.8ZM550.3 404.7l-9.4 -4.4v8.8Z" fill="#000"/>
<text class="s" x="508.6" y="420.0" font-size="14">200</text>
</g>
<g>
<rect x="493" y="696.5" width="62.8" height="125.8" fill="#000"/>
<path d="M561.5 698.6H577.3M561.5 822.3H577.3" stroke="#333" stroke-width="0.8" fill="none"/>
<path d="M572.9 706.6V743.5M572.9 771.5V814.3" stroke="#000" stroke-width="1.3" fill="none"/>
<path d="M572.9 698.6l-4.7 10.2h9.4ZM572.9 822.3l-4.7 -10.2h9.4Z" fill="#000"/>
<text class="s" x="563.4" y="766.5" font-size="17.3">600</text>
<path d="M491.3 824.5V837.9M555.0 824.5V837.9" stroke="#333" stroke-width="0.8" fill="none"/>
<path d="M499.3 834.6H547.0" stroke="#000" stroke-width="1.3" fill="none"/>
<path d="M491.3 834.6l9.4 -4.4v8.8ZM555.0 834.6l-9.4 -4.4v8.8Z" fill="#000"/>
<text class="s" x="513.6" y="848.3" font-size="14">200</text>
</g>
</svg>
</body></html>
